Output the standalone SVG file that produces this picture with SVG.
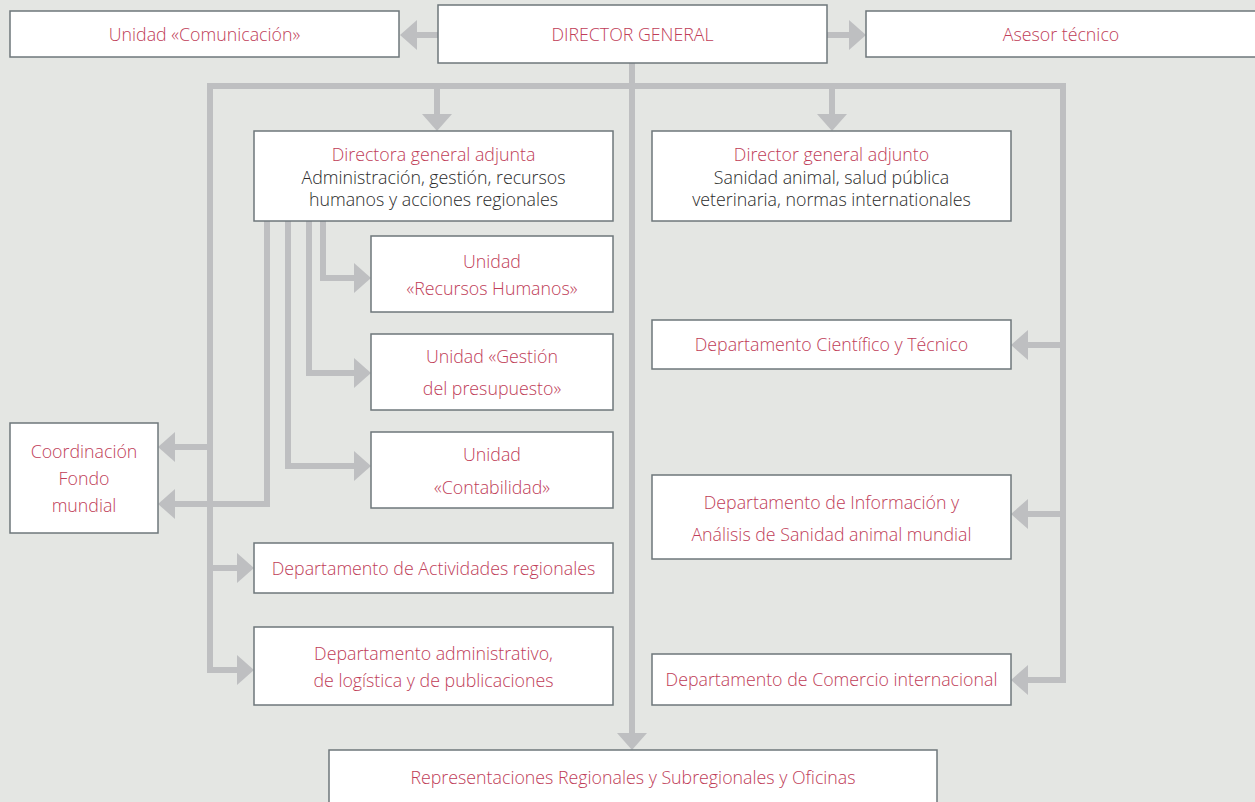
<svg xmlns="http://www.w3.org/2000/svg" width="1255" height="802" viewBox="0 0 1255 802">
<defs>
<style>
.box{fill:#ffffff;stroke:#6e777b;stroke-width:1.5}
.t{font-family:"Open Sans","Liberation Sans",sans-serif;font-weight:300;font-size:17.8px;text-anchor:middle}
.r{fill:#c03d58}
.d{fill:#2b2b2b}
.c{fill:none;stroke:#bebfc1;stroke-width:6;stroke-linejoin:miter;marker-end:url(#ah)}
</style>
<marker id="ah" markerUnits="userSpaceOnUse" markerWidth="17" markerHeight="30" refX="0" refY="15" orient="auto" viewBox="0 0 17 30">
<path d="M0,0 L17,15 L0,30 z" fill="#bebfc1"/>
</marker>
</defs>
<rect x="0" y="0" width="1255" height="802" fill="#e4e6e3"/>
<g id="connectors">
<path class="c" d="M438,35 H417"/>
<path class="c" d="M827,35 H849"/>
<path class="c" d="M632,63 V733"/>
<path class="c" d="M632,86 H210 V670 H237"/>
<path class="c" d="M632,86 H1063 V680 H1028"/>
<path class="c" d="M437,86 V114"/>
<path class="c" d="M832,86 V114"/>
<path class="c" d="M210,447 H175"/>
<path class="c" d="M210,568 H237"/>
<path class="c" d="M1063,345 H1028"/>
<path class="c" d="M1063,514 H1028"/>
<path class="c" d="M323,221 V278 H354"/>
<path class="c" d="M309,221 V373 H354"/>
<path class="c" d="M288,221 V466 H354"/>
<path class="c" d="M267,221 V504 H175"/>
</g>
<g id="comunicacion"><rect class="box" x="10" y="11" width="389" height="46"/><text class="t r" x="204.5" y="41">Unidad «Comunicación»</text></g>
<g id="director-general"><rect class="box" x="438" y="5" width="389" height="58"/><text class="t r" x="632.5" y="41">DIRECTOR GENERAL</text></g>
<g id="asesor"><rect class="box" x="866" y="11" width="395" height="46"/><text class="t r" x="1061" y="41">Asesor técnico</text></g>
<g id="directora-adjunta"><rect class="box" x="254" y="131" width="359" height="90"/>
<text class="t r" x="433.5" y="161">Directora general adjunta</text>
<text class="t d" x="433.5" y="184">Administración, gestión, recursos</text>
<text class="t d" x="433.5" y="206">humanos y acciones regionales</text></g>
<g id="director-adjunto"><rect class="box" x="652" y="131" width="359" height="90"/>
<text class="t r" x="831.5" y="161">Director general adjunto</text>
<text class="t d" x="831.5" y="184">Sanidad animal, salud pública</text>
<text class="t d" x="831.5" y="206">veterinaria, normas internationales</text></g>
<g id="unidad-rh"><rect class="box" x="371" y="236" width="242" height="76"/>
<text class="t r" x="492" y="268">Unidad</text>
<text class="t r" x="492" y="295">«Recursos Humanos»</text></g>
<g id="unidad-presupuesto"><rect class="box" x="371" y="334" width="242" height="76"/>
<text class="t r" x="492" y="363">Unidad «Gestión</text>
<text class="t r" x="492" y="395">del presupuesto»</text></g>
<g id="unidad-contabilidad"><rect class="box" x="371" y="432" width="242" height="76"/>
<text class="t r" x="492" y="461">Unidad</text>
<text class="t r" x="492" y="494">«Contabilidad»</text></g>
<g id="coordinacion"><rect class="box" x="10" y="423" width="148" height="110"/>
<text class="t r" x="84" y="458">Coordinación</text>
<text class="t r" x="84" y="485">Fondo</text>
<text class="t r" x="84" y="512">mundial</text></g>
<g id="dep-actividades"><rect class="box" x="254" y="543" width="359" height="50"/>
<text class="t r" x="433.5" y="575">Departamento de Actividades regionales</text></g>
<g id="dep-administrativo"><rect class="box" x="254" y="627" width="359" height="78"/>
<text class="t r" x="433.5" y="660">Departamento administrativo,</text>
<text class="t r" x="433.5" y="687">de logística y de publicaciones</text></g>
<g id="dep-cientifico"><rect class="box" x="652" y="320" width="359" height="49"/>
<text class="t r" x="831.5" y="351">Departamento Científico y Técnico</text></g>
<g id="dep-informacion"><rect class="box" x="652" y="475" width="359" height="84"/>
<text class="t r" x="831.5" y="509">Departamento de Información y</text>
<text class="t r" x="831.5" y="541">Análisis de Sanidad animal mundial</text></g>
<g id="dep-comercio"><rect class="box" x="652" y="654" width="359" height="51"/>
<text class="t r" x="831.5" y="686">Departamento de Comercio internacional</text></g>
<g id="representaciones"><rect class="box" x="329" y="750" width="608" height="60"/>
<text class="t r" x="633" y="784">Representaciones Regionales y Subregionales y Oficinas</text></g>
</svg>
